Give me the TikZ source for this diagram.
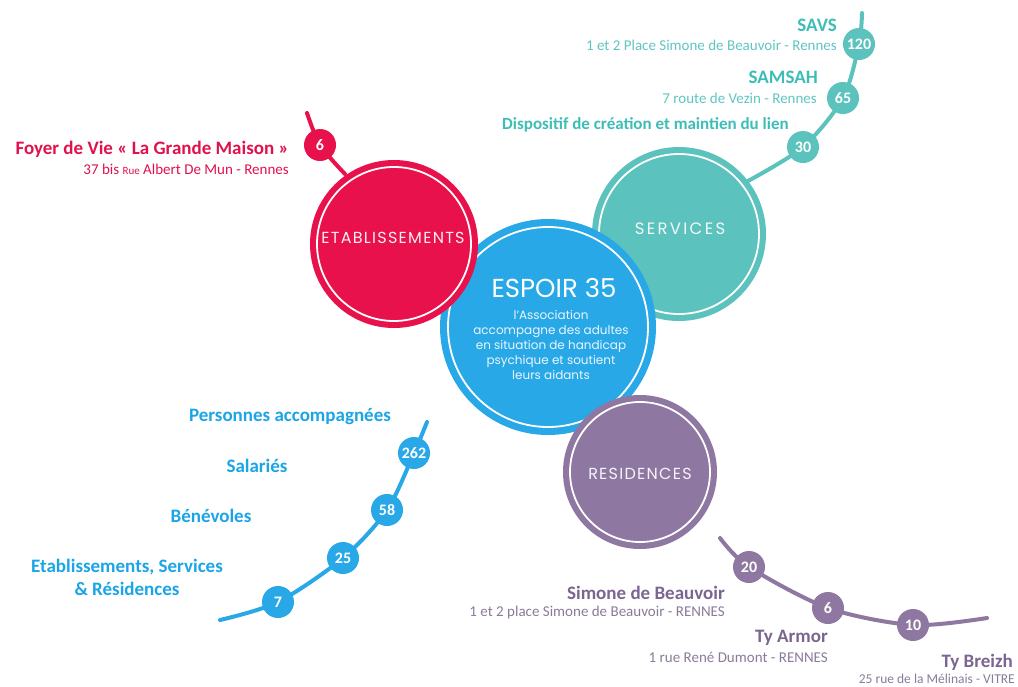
\documentclass[tikz,border=0pt]{standalone}
\usepackage{fontspec}
\setmainfont{Carlito}
\newfontfamily\circfont{Poppins}
\newfontfamily\circfontsp[LetterSpace=8]{Poppins}
\newfontfamily\circfontwide[LetterSpace=14]{Poppins}
\definecolor{redc}{HTML}{E8114B}
\definecolor{tealc}{HTML}{5CC2BD}
\definecolor{bluec}{HTML}{29A8E8}
\definecolor{purc}{HTML}{8E77A1}
\definecolor{redt}{HTML}{E0124D}
\definecolor{tealt}{HTML}{3DBDB6}
\definecolor{teals}{HTML}{5FC6C0}
\definecolor{bluet}{HTML}{1BA5E6}
\definecolor{purt}{HTML}{7A6690}
\definecolor{purs}{HTML}{8A7C99}
\begin{document}
\begin{tikzpicture}[x=1pt,y=-1pt,
  bigc/.style={circle, inner sep=0pt},
  ring/.style={draw=white, line width=1.8pt},
  ctext/.style={inner sep=0pt, text=white, font=\circfontsp\fontsize{16}{16}\selectfont},
  bubble/.style={circle, inner sep=0pt, minimum size=32pt, text=white, font=\bfseries\fontsize{16}{16}\selectfont},
  lbl/.style={inner sep=0pt, font=\bfseries\fontsize{19}{21}\selectfont},
  addr/.style={inner sep=0pt, font=\fontsize{15}{16}\selectfont},
  tl/.style={line width=4pt, line cap=round}]
\useasboundingbox (0,0) rectangle (1018,686);
\fill[white] (0,0) rectangle (1018,686);

% ---------- timeline coordinates ----------
\coordinate (tTop) at (862,13);
\coordinate (c120) at (859,44);
\coordinate (c65) at (843,98);
\coordinate (c30) at (803,147);
\coordinate (tEnd) at (748,181);

\coordinate (rTop) at (307,113);
\coordinate (c6r) at (320,145);
\coordinate (rEnd) at (345,174);

\coordinate (bTop) at (427,422);
\coordinate (c262) at (414,453);
\coordinate (c58) at (387,510);
\coordinate (c25) at (343,558);
\coordinate (c7) at (278,602);
\coordinate (bEnd) at (220,620);

\coordinate (pTop) at (720,538);
\coordinate (c20) at (749,567);
\coordinate (c6p) at (828,608);
\coordinate (c10) at (913,625);
\coordinate (pEnd) at (987,618);

% ---------- timeline lines ----------
\draw[tl, tealc] plot[smooth] coordinates {(tTop) (c120) (c65) (c30) (tEnd)};
\draw[tl, redc] plot[smooth] coordinates {(rTop) (c6r) (rEnd)};
\draw[tl, bluec] plot[smooth] coordinates {(bTop) (c262) (c58) (c25) (c7) (bEnd)};
\draw[tl, purc] plot[smooth] coordinates {(pTop) (c20) (c6p) (c10) (pEnd)};

% ---------- big circles ----------
\node[bigc, fill=tealc, minimum size=174pt] (serv) at (679,234) {};
\draw[ring] (serv.center) circle (80pt);
\node[ctext, font=\circfontwide\fontsize{16.5}{16.5}\selectfont, text=white!92!tealc] (servt) at (680,229) {SERVICES};

\node[bigc, fill=bluec, minimum size=216pt] (esp) at (548,327) {};
\draw[ring] (esp.center) circle (100pt);
\node[inner sep=0pt, text=white, font=\circfont\fontsize{26}{26}\selectfont] (espt) at (554,288) {ESPOIR 35};
\node[inner sep=0pt, text=white!90!bluec, align=center, font=\circfont\fontsize{12}{15}\selectfont] (espd) at (551,345)
  {l’Association\\accompagne des adultes\\en situation de handicap\\psychique et soutient\\leurs aidants};

\node[bigc, fill=redc, minimum size=168pt] (etab) at (394,244) {};
\draw[ring] (etab.center) circle (77pt);
\node[ctext, text=white!92!redc] (etabt) at (393,238) {ETABLISSEMENTS};

\node[bigc, fill=purc, minimum size=154pt] (resi) at (640,472) {};
\draw[ring] (resi.center) circle (70pt);
\node[ctext, text=white!92!purc] (resit) at (640,474) {RESIDENCES};

% ---------- bubbles ----------
\node[bubble, fill=tealc] (b120) at (c120) {120};
\node[bubble, fill=tealc] (b65) at (c65) {65};
\node[bubble, fill=tealc] (b30) at (c30) {30};
\node[bubble, fill=redc] (b6r) at (c6r) {6};
\node[bubble, fill=bluec] (b262) at (c262) {262};
\node[bubble, fill=bluec] (b58) at (c58) {58};
\node[bubble, fill=bluec] (b25) at (c25) {25};
\node[bubble, fill=bluec] (b7) at (c7) {7};
\node[bubble, fill=purc] (b20) at (c20) {20};
\node[bubble, fill=purc] (b6p) at (c6p) {6};
\node[bubble, fill=purc] (b10) at (c10) {10};

% ---------- labels: services ----------
\node[lbl, text=tealt, anchor=east] (savs) at (837,25) {SAVS};
\node[addr, text=teals, anchor=east] (savsa) at (837,45) {1 et 2 Place Simone de Beauvoir - Rennes};
\node[lbl, text=tealt, anchor=east] (sams) at (818,77) {SAMSAH};
\node[addr, text=teals, anchor=east] (samsa) at (817,98) {7 route de Vezin - Rennes};
\node[lbl, text=tealt, anchor=west, font=\bfseries\fontsize{17}{20}\selectfont] (disp) at (502,125) {Dispositif de création et maintien du lien};

% ---------- labels: etablissements ----------
\node[lbl, text=redt, anchor=east] (foyer) at (289,149) {Foyer de Vie « La Grande Maison »};
\node[addr, text=redt, anchor=east] (foyera) at (289,169) {37 bis {\fontsize{11}{11}\selectfont Rue} Albert De Mun - Rennes};

% ---------- labels: chiffres ----------
\node[lbl, text=bluet] (pers) at (290,417) {Personnes accompagnées};
\node[lbl, text=bluet] (sal) at (257,466) {Salariés};
\node[lbl, text=bluet] (ben) at (211,516) {Bénévoles};
\node[lbl, text=bluet, align=center, font=\bfseries\fontsize{19}{23}\selectfont] (esr) at (127,577) {Etablissements, Services\\\& Résidences};

% ---------- labels: residences ----------
\node[lbl, text=purt, anchor=east] (sdb) at (725,593) {Simone de Beauvoir};
\node[addr, text=purs, anchor=east] (sdba) at (725,612) {1 et 2 place Simone de Beauvoir - RENNES};
\node[lbl, text=purt, anchor=east] (tya) at (828,638) {Ty Armor};
\node[addr, text=purs, anchor=east] (tyaa) at (828,657) {1 rue René Dumont - RENNES};
\node[lbl, text=purt, anchor=east] (tyb) at (1013,662) {Ty Breizh};
\node[addr, text=purs, anchor=east, font=\fontsize{13.5}{14}\selectfont] (tyba) at (1015,679) {25 rue de la Mélinais - VITRE};
\end{tikzpicture}
\end{document}
